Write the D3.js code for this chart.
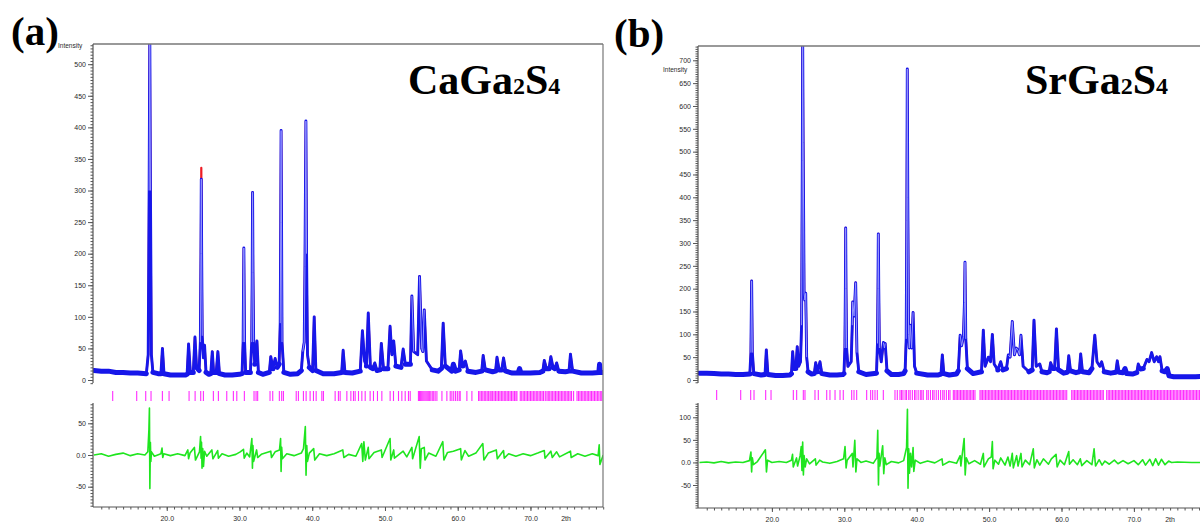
<!DOCTYPE html>
<html><head><meta charset="utf-8">
<script src="https://cdn.jsdelivr.net/npm/d3@7"></script>
<style>
html,body{margin:0;padding:0;background:#fff;}
svg{display:block;}
</style></head><body>
<svg id="chart" width="1200" height="522"></svg>
<script>
// ================= DATA =================
// Panel (a) CaGa2S4 : observed profile vertices [2theta, intensity]
const obsA = [[10,15],[11,14],[12,14],[13,12],[14,12],[15,11],[16,11],[17.2,10],[17.45,40],[17.58,300],[17.67,545],[17.76,300],[17.89,40],[18.1,12],[18.8,10],[19.2,10],[19.41,50],[19.62,10],[20.5,8],[21.5,8],[22.6,8],[22.8,9],[23.0,57],[23.25,12],[23.65,12],[23.88,68],[24.1,20],[24.45,15],[24.62,60],[24.7,200],[24.75,318],[24.8,200],[24.88,70],[25.05,35],[25.2,55],[25.4,12],[25.8,9],[26.05,10],[26.26,45],[26.45,12],[26.8,12],[27.03,45],[27.25,10],[28,8],[29,8],[30,9],[30.35,10],[30.5,60],[30.6,209],[30.7,60],[30.85,12],[31.5,12],[31.68,60],[31.75,170],[31.8,297],[31.86,170],[31.95,60],[32.1,25],[32.4,62],[32.6,12],[33.2,9],[34.1,12],[34.3,37],[34.6,18],[34.9,34],[35.2,20],[35.45,25],[35.6,90],[35.67,250],[35.72,395],[35.78,250],[35.85,60],[36.1,12],[37,9],[38,10],[38.5,15],[38.7,45],[38.9,60],[39.0,180],[39.13,410],[39.22,200],[39.35,40],[39.6,20],[40.05,15],[40.27,100],[40.5,15],[41.5,10],[43,10],[44.05,12],[44.25,47],[44.5,12],[45.5,11],[46.6,14],[46.9,78],[47.2,30],[47.45,22],[47.7,106],[48.0,20],[48.3,18],[48.6,27],[48.9,15],[49.3,16],[49.5,58],[49.8,18],[50.4,18],[50.7,85],[50.95,40],[51.2,62],[51.5,22],[52.2,20],[52.5,49],[52.8,25],[53.5,25],[53.7,133],[53.95,45],[54.5,40],[54.75,164],[55.05,50],[55.2,45],[55.4,111],[55.7,30],[56.5,16],[57.3,14],[57.75,18],[58.0,90],[58.3,22],[59.2,14],[59.4,25],[59.7,14],[60.2,16],[60.4,46],[60.7,22],[61.05,30],[61.4,14],[62.5,12],[63.3,14],[63.5,39],[63.8,16],[64.8,13],[65.2,14],[65.4,36],[65.7,16],[66.05,16],[66.3,35],[66.6,14],[67.5,11],[68.3,11],[68.5,18],[68.7,11],[70,11],[71.3,12],[71.7,14],[71.9,31],[72.2,18],[72.55,18],[72.8,37],[73.1,20],[73.35,18],[73.6,27],[73.9,14],[74.8,13],[75.3,14],[75.5,41],[75.8,14],[77,11],[78.5,11],[79.4,12],[79.5,25],[79.6,12],[80,12]];
// calculated apex values where they differ from the observed ones
const calcApexA = [[24.75,336],[79.5,20]];
// difference curve vertices [2theta, obs-calc]
const residA = [[10,0],[11,2],[12,-2],[13,1],[14,3],[15,-1],[16,2],[17,0],[17.4,5],[17.55,40],[17.62,74],[17.68,-53],[17.75,20],[17.82,-10],[17.9,5],[18.3,-2],[19.2,2],[19.35,11],[19.45,-4],[19.6,2],[20.5,-1],[21.5,2],[22.5,-1],[22.9,8],[23.0,-6],[23.2,3],[23.8,12],[23.95,-8],[24.5,5],[24.65,29],[24.72,-5],[24.78,20],[24.85,-21],[24.95,10],[25.05,-18],[25.2,6],[25.5,-2],[26.2,8],[26.35,-6],[27.0,7],[27.1,-5],[27.6,2],[28.5,-2],[29.5,1],[30.1,5],[30.55,9],[30.65,-5],[31.0,3],[31.4,-3],[31.7,26],[31.78,-21],[31.85,15],[31.95,-10],[32.35,8],[32.5,-4],[33,1],[34.3,6],[34.4,-4],[34.9,5],[35.5,8],[35.65,26],[35.72,-26],[35.8,12],[35.9,-6],[36.5,2],[37.5,-1],[38.5,3],[38.8,10],[39.05,45],[39.15,-32],[39.25,15],[39.35,-10],[39.6,3],[40.2,10],[40.35,-8],[41,2],[42,-1],[43,2],[44.2,8],[44.35,-4],[45,1],[46.0,-2],[46.8,18],[46.95,-10],[47.1,21],[47.3,-8],[47.7,12],[47.8,-6],[48.5,4],[49.5,8],[49.6,-4],[50.7,26],[50.8,-8],[51.2,8],[51.3,-5],[52.5,6],[53.0,-3],[53.7,12],[53.8,-6],[54.7,29],[54.85,-21],[55.0,10],[55.4,12],[55.5,-8],[56.0,3],[57,-2],[57.95,21],[58.1,-8],[58.6,4],[59.4,6],[60.4,10],[60.5,-8],[61.0,7],[61.5,-2],[62.5,3],[63.45,18],[63.6,-8],[64.2,3],[65.3,8],[65.45,-6],[66.3,7],[66.4,-5],[67.0,2],[68,-2],[69,2],[70,-1],[71,3],[71.9,7],[72.0,-5],[72.8,6],[73.0,-4],[73.6,5],[74.0,-3],[75.5,6],[75.6,-4],[76.5,2],[77.5,-2],[78.5,2],[79.3,-1],[79.45,16],[79.55,-15],[80,0]];
// Bragg reflection positions
const braggA = [12.57,15.87,17.11,17.84,19.4,20.32,23.07,23.9,24.67,25.04,26.41,27.1,28.25,29.16,29.63,30.67,32.0,32.28,32.5,34.2,34.57,35.48,35.8,36.04,37.8,38.1,38.79,39.16,39.71,40.17,40.54,41.32,41.54,43.15,43.6,43.84,44.76,45.31,45.67,45.9,46.36,46.82,47.28,47.96,48.42,48.97,49.57,50.71,51.17,51.86,52.32,52.78,53.23,53.47,54.6,54.75,54.9,55.05,55.2,55.35,55.5,55.65,55.8,55.95,56.1,56.3,56.5,56.7,56.9,57.14,57.83,58.51,58.97,59.2,59.45,59.7,59.95,60.2,60.34,61.26,61.95,62.86,63.05,63.25,63.45,63.65,63.85,64.05,64.25,64.45,64.6,64.8,65.0,65.2,65.4,65.6,65.8,66.0,66.2,66.4,66.6,66.8,67.0,67.2,67.4,67.6,67.8,68.0,68.14,68.6,68.8,69.0,69.2,69.4,69.6,69.8,70.0,70.2,70.4,70.6,70.8,71.0,71.2,71.4,71.6,71.8,72.04,72.27,72.45,72.65,72.85,73.05,73.25,73.45,73.65,73.85,74.05,74.25,74.45,74.65,74.85,75.05,75.25,75.45,75.65,75.93,76.4,76.6,76.8,77.0,77.2,77.4,77.6,77.8,78.0,78.2,78.4,78.6,78.8,79.0,79.2,79.4,79.6,79.8];

// Panel (b) SrGa2S4
const obsB = [[10,15],[11,15],[12,14],[13,13],[14,13],[15,12],[16,12],[16.95,13],[17.1,60],[17.2,217],[17.3,60],[17.5,14],[18.5,11],[19.05,12],[19.23,66],[19.45,12],[20.5,10],[21.5,10],[22.5,11],[22.7,14],[22.87,62],[23.05,25],[23.3,25],[23.5,73],[23.7,30],[23.95,40],[24.1,120],[24.2,480],[24.25,745],[24.32,520],[24.45,190],[24.55,175],[24.67,190],[24.8,50],[25.0,18],[25.5,13],[25.85,14],[26.05,38],[26.3,18],[26.64,40],[26.9,14],[28,11],[29,11],[29.8,12],[29.95,14],[30.08,70],[30.15,200],[30.19,333],[30.24,200],[30.32,70],[30.5,30],[30.95,40],[31.1,120],[31.16,171],[31.35,140],[31.57,213],[31.75,60],[32.0,18],[33,12],[34.45,15],[34.58,80],[34.65,200],[34.7,320],[34.76,200],[34.85,70],[35.1,40],[35.4,82],[35.55,70],[35.65,80],[35.9,20],[36.5,12],[37.5,12],[38.2,14],[38.4,20],[38.55,90],[38.63,350],[38.7,681],[38.77,400],[38.88,100],[38.98,70],[39.1,120],[39.3,70],[39.5,148],[39.7,30],[40,15],[41.5,11],[43,11],[43.35,13],[43.54,55],[43.75,14],[44.5,11],[45.5,13],[45.75,20],[46.0,98],[46.2,75],[46.45,95],[46.6,170],[46.67,258],[46.78,90],[47.0,25],[47.8,14],[48.95,18],[49.2,109],[49.45,30],[49.9,50],[50.2,40],[50.45,100],[50.7,35],[51.2,22],[51.6,40],[51.9,22],[52.4,25],[52.65,55],[52.9,50],[53.2,128],[53.5,55],[53.75,70],[54.0,65],[54.2,55],[54.4,98],[54.7,30],[55.5,18],[55.95,22],[56.2,131],[56.5,30],[57.0,35],[57.3,18],[58,16],[58.3,18],[58.5,38],[58.8,25],[59.05,25],[59.3,112],[59.6,22],[60.3,15],[60.8,17],[61.0,53],[61.25,20],[62,16],[62.45,18],[62.65,57],[62.9,18],[63.8,16],[64.2,25],[64.6,98],[64.9,40],[65.3,30],[65.55,40],[65.9,18],[66.8,15],[67.5,17],[67.7,42],[67.95,17],[68.5,16],[68.77,25],[69.0,14],[69.8,13],[70.4,16],[70.6,35],[70.9,24],[71.3,25],[71.8,45],[72.1,40],[72.45,60],[72.8,40],[73.15,51],[73.4,40],[73.6,51],[73.9,20],[74.3,18],[74.6,25],[74.85,9],[75.5,7],[77,7],[78.5,7],[80,8]];
const calcApexB = [[24.25,745],[38.7,681]];
const residB = [[10,0],[11,1],[12,-1],[13,2],[14,-1],[15,1],[16,0],[16.9,4],[17.1,23],[17.2,-21],[17.3,10],[17.45,-5],[18,2],[19.1,28],[19.25,-21],[19.4,5],[20,0],[21,2],[22,0],[22.7,5],[22.85,18],[22.95,-10],[23.4,10],[23.55,-8],[23.9,15],[24.05,35],[24.15,-18],[24.25,45],[24.35,-28],[24.45,15],[24.6,-10],[24.8,8],[25.2,-3],[26,8],[26.1,-6],[26.6,5],[27,1],[28,-2],[29,2],[29.9,8],[30.1,35],[30.25,-12],[30.4,5],[31.1,20],[31.2,-10],[31.45,49],[31.6,-21],[31.75,8],[32.3,0],[33,3],[34,-2],[34.5,10],[34.62,71],[34.72,-50],[34.8,20],[34.9,-8],[35.3,37],[35.45,-25],[35.6,10],[35.8,-5],[36.5,2],[37.5,-1],[38.2,4],[38.6,33],[38.72,118],[38.8,-57],[38.9,30],[39.0,-24],[39.15,20],[39.3,-10],[39.5,33],[39.6,-20],[39.8,5],[40.5,-2],[41.5,3],[42.5,-1],[43.5,8],[43.6,-6],[44.5,2],[45.5,-2],[46.0,15],[46.1,-8],[46.55,53],[46.7,-28],[46.85,10],[47.2,-3],[48,4],[48.8,-4],[49.2,20],[49.3,-10],[49.9,8],[50.3,12],[50.45,46],[50.55,-14],[50.8,5],[51.3,-4],[51.6,10],[52.2,-6],[52.6,12],[52.9,-8],[53.2,20],[53.35,-12],[53.8,15],[54.0,-8],[54.4,20],[54.55,-10],[55,5],[55.6,-5],[56.1,30],[56.25,-12],[56.6,6],[57,-6],[57.5,8],[58.2,-4],[58.6,8],[59.25,18],[59.4,-10],[59.8,5],[60.4,-5],[61.0,24],[61.1,-4],[61.6,6],[62.2,-5],[62.6,8],[62.8,-7],[63.5,4],[64.2,-5],[64.5,30],[64.7,-8],[65.2,6],[65.6,-6],[66,3],[66.6,-4],[67.3,5],[67.8,-3],[68.5,4],[69.2,-3],[70,4],[70.6,-5],[71.2,6],[71.6,-6],[72.2,7],[72.6,-7],[73.0,8],[73.4,-6],[73.8,7],[74.3,-5],[74.8,3],[75.2,0],[76,1],[78,0],[80,0]];
const braggB = [12.37,15.69,17.07,17.53,19.14,19.88,22.96,23.42,24.34,24.57,25.95,26.41,27.57,28.02,28.72,29.41,29.86,31.02,31.34,31.71,33.09,33.64,33.92,34.24,34.56,35.39,37.0,37.32,37.69,37.9,38.1,38.4,38.6,38.9,39.1,39.4,39.7,39.9,40.2,40.5,40.7,40.91,41.38,41.6,41.9,42.2,42.4,42.7,43.0,43.3,43.6,43.8,44.1,44.4,44.6,45.06,45.25,45.45,45.65,45.85,46.05,46.25,46.45,46.65,46.85,47.05,47.25,47.45,47.65,47.85,48.05,48.74,48.9,49.1,49.3,49.5,49.7,49.9,50.1,50.3,50.5,50.7,50.9,51.1,51.3,51.5,51.7,51.9,52.1,52.3,52.5,52.7,52.9,53.1,53.3,53.5,53.7,53.9,54.1,54.3,54.5,54.7,54.9,55.1,55.3,55.5,55.7,55.9,56.1,56.3,56.5,56.7,56.9,57.1,57.3,57.5,57.7,57.9,58.1,58.3,58.5,58.7,58.9,59.1,59.3,59.5,59.7,59.9,60.1,60.3,60.5,60.72,61.41,61.6,61.8,62.0,62.2,62.4,62.6,62.8,63.0,63.2,63.4,63.6,63.8,64.0,64.2,64.4,64.6,64.8,65.0,65.2,65.4,65.6,65.78,66.24,66.45,66.65,66.85,67.05,67.25,67.45,67.65,67.85,68.05,68.25,68.45,68.65,68.85,69.05,69.25,69.45,69.65,69.85,70.05,70.25,70.45,70.65,70.85,71.05,71.25,71.45,71.65,71.85,72.05,72.25,72.45,72.65,72.85,73.05,73.25,73.45,73.65,73.85,74.05,74.25,74.45,74.65,74.85,75.05,75.25,75.45,75.65,75.85,76.05,76.25,76.45,76.65,76.85,77.05,77.25,77.45,77.65,77.85,78.05,78.25,78.45,78.65,78.85,79.05,79.25,79.45,79.65,79.85];

// tick values / labels
const xTicks = [20,30,40,50,60,70];
const yTicksA = [0,50,100,150,200,250,300,350,400,450,500];
const yTicksB = [0,50,100,150,200,250,300,350,400,450,500,550,600,650,700];
const resTicksA = [-50,0,50];
const resTicksB = [-50,0,50,100];
const formulaA = ["CaGa","2","S","4"];
const formulaB = ["SrGa","2","S","4"];
const panelLetters = ["(a)","(b)"];
const axisTitleY = "Intensity";
const axisTitleX = "2th";

// ================= DRAWING =================
const svg = d3.select('#chart');
const defs = svg.append('defs');

function drawPanel(cfg, obs, calcApex, resid, bragg, yTicks, resTicks, formula, letter, id){
  const g = svg.append('g');
  const x = d3.scaleLinear().domain([10,80]).range(cfg.xr);
  const y = d3.scaleLinear().domain(cfg.yd).range(cfg.yr);
  const r = d3.scaleLinear().domain(cfg.rd).range(cfg.rr);

  defs.append('clipPath').attr('id','clip'+id).append('rect')
    .attr('x',cfg.left).attr('y',cfg.top).attr('width',cfg.right-cfg.left).attr('height',cfg.bottom-cfg.top);
  const plot = g.append('g').attr('clip-path',`url(#clip${id})`);

  const cmap = new Map(calcApex.map(d=>[d[0],d[1]]));
  const calc = obs.map(d=>[d[0], cmap.has(d[0]) ? cmap.get(d[0]) : d[1]]);
  const line = d3.line().x(d=>x(d[0])).y(d=>y(d[1]));
  const bandLine = d3.line().defined(d=>d[1]<=26).x(d=>x(d[0])).y(d=>y(d[1]));
  const coreLine = d3.line().defined(d=>d[1]>=45).x(d=>x(d[0])).y(d=>y(d[1]));

  plot.append('path').datum(calc).attr('d',line).attr('fill','none')
    .attr('stroke','#ee1c24').attr('stroke-width',2.2).attr('stroke-linejoin','round');
  plot.append('path').datum(obs).attr('d',bandLine).attr('fill','none')
    .attr('stroke','#1515e8').attr('stroke-width',5).attr('stroke-linejoin','round').attr('stroke-linecap','round');
  plot.append('path').datum(obs).attr('d',line).attr('fill','none')
    .attr('stroke','#1717ea').attr('stroke-width',2.9).attr('stroke-linejoin','round');
  plot.append('path').datum(obs).attr('d',coreLine).attr('fill','none')
    .attr('stroke','#9595ff').attr('stroke-width',1.0).attr('stroke-linejoin','round');

  // Bragg ticks
  plot.selectAll('line.bragg').data(bragg).join('line').attr('class','bragg')
    .attr('x1',d=>x(d)).attr('x2',d=>x(d)).attr('y1',cfg.bt).attr('y2',cfg.bb)
    .attr('stroke','#ff2cff').attr('stroke-width',1.1);

  // Difference curve
  const rline = d3.line().x(d=>x(d[0])).y(d=>r(d[1]));
  plot.append('path').datum(resid).attr('d',rline).attr('fill','none')
    .attr('stroke','#1fe51f').attr('stroke-width',1.6).attr('stroke-linejoin','round');

  const axisColor = '#555';
  const fontCss = 'font-family:"Liberation Sans",Arial,sans-serif;font-size:7px;fill:#2a2a2a;';

  // frame: top + right
  g.append('line').attr('x1',cfg.left).attr('x2',cfg.right).attr('y1',cfg.top).attr('y2',cfg.top)
    .attr('stroke','#777').attr('stroke-width',1.4);
  g.append('line').attr('x1',cfg.right).attr('x2',cfg.right).attr('y1',cfg.top).attr('y2',cfg.bottom)
    .attr('stroke','#777').attr('stroke-width',1.2);

  // upper y axis
  const yMinor = d3.axisLeft(y).tickValues(d3.range(cfg.yMinorFrom, cfg.yMinorTo+1, 5)).tickSize(2.5).tickFormat('');
  const yMajor = d3.axisLeft(y).tickValues(yTicks).tickSize(5).tickPadding(2).tickFormat(d3.format('d'));
  [yMinor,yMajor].forEach(ax=>{
    const a = g.append('g').attr('transform',`translate(${cfg.left},0)`).call(ax);
    a.select('.domain').remove();
    a.selectAll('line').attr('stroke',axisColor);
    a.selectAll('text').attr('style',fontCss);
  });
  g.append('line').attr('x1',cfg.left).attr('x2',cfg.left).attr('y1',cfg.top).attr('y2',cfg.ue)
    .attr('stroke',axisColor).attr('stroke-width',1.2);

  // residual axis
  const rMinor = d3.axisLeft(r).tickValues(d3.range(cfg.rMinorFrom, cfg.rMinorTo+1, 5)).tickSize(2.5).tickFormat('');
  const rMajor = d3.axisLeft(r).tickValues(resTicks).tickSize(5).tickPadding(2).tickFormat(v=>v===0?'0.0':String(v));
  [rMinor,rMajor].forEach(ax=>{
    const a = g.append('g').attr('transform',`translate(${cfg.left},0)`).call(ax);
    a.select('.domain').remove();
    a.selectAll('line').attr('stroke',axisColor);
    a.selectAll('text').attr('style',fontCss);
  });
  g.append('line').attr('x1',cfg.left).attr('x2',cfg.left).attr('y1',cfg.ls).attr('y2',cfg.bottom)
    .attr('stroke',axisColor).attr('stroke-width',1.2);

  // x axis
  const xMinor = d3.axisBottom(x).tickValues(d3.range(11,81,1)).tickSize(2.5).tickFormat('');
  const xMajor = d3.axisBottom(x).tickValues(xTicks).tickSize(4).tickPadding(5).tickFormat(d3.format('.1f'));
  [xMinor,xMajor].forEach(ax=>{
    const a = g.append('g').attr('transform',`translate(0,${cfg.bottom})`).call(ax);
    a.select('.domain').remove();
    a.selectAll('line').attr('stroke',axisColor);
    a.selectAll('text').attr('style',fontCss);
  });
  g.append('line').attr('x1',cfg.left).attr('x2',cfg.right).attr('y1',cfg.bottom).attr('y2',cfg.bottom)
    .attr('stroke',axisColor).attr('stroke-width',1.2);

  // axis titles
  g.append('text').attr('x',cfg.ytx).attr('y',cfg.yty).attr('text-anchor','start')
    .attr('style',fontCss+'font-size:6.5px;').text(axisTitleY);
  g.append('text').attr('x',cfg.xtx).attr('y',cfg.bottom+14).attr('text-anchor','middle')
    .attr('style',fontCss).text(axisTitleX);

  // compound label
  const t = g.append('text').attr('x',cfg.fx).attr('y',cfg.fy)
    .attr('style','font-family:"Liberation Serif","Times New Roman",serif;font-weight:bold;fill:#000;');
  formula.forEach((s,i)=>{
    t.append('tspan').attr('font-size', i%2===0 ? 42 : 24).text(s);
  });

  // panel letter
  g.append('text').attr('x',cfg.lx).attr('y',cfg.ly)
    .attr('style','font-family:"Liberation Serif","Times New Roman",serif;font-weight:bold;font-size:41px;fill:#000;')
    .text(letter);
}

const cfgA = {left:93, right:603, top:44, bottom:507, xr:[94,603.2],
  yd:[0,500], yr:[380,64.2], rd:[-50,50], rr:[486.7,423.3],
  bt:391, bb:401, ue:383, ls:403,
  yMinorFrom:-5, yMinorTo:530, rMinorFrom:-80, rMinorTo:80,
  ytx:58, yty:48, xtx:566, fx:408, fy:94, lx:11, ly:45};
const cfgB = {left:698, right:1210, top:46, bottom:508, xr:[699.5,1206.3],
  yd:[0,700], yr:[380,60.3], rd:[-50,100], rr:[485,417.3],
  bt:390, bb:400, ue:383, ls:403,
  yMinorFrom:-5, yMinorTo:730, rMinorFrom:-100, rMinorTo:130,
  ytx:663, yty:72, xtx:1170, fx:1025, fy:94, lx:614, ly:47};

drawPanel(cfgA, obsA, calcApexA, residA, braggA, yTicksA, resTicksA, formulaA, panelLetters[0], 'A');
drawPanel(cfgB, obsB, calcApexB, residB, braggB, yTicksB, resTicksB, formulaB, panelLetters[1], 'B');
</script>
</body></html>
